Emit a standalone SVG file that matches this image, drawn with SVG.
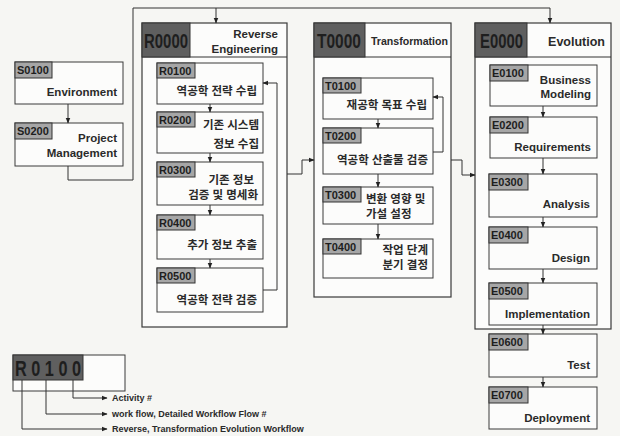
<svg xmlns="http://www.w3.org/2000/svg" width="620" height="436" viewBox="0 0 620 436">
  <style>
    .bg { fill: #f6f6f3; }
    .box { fill: #fcfcfb; stroke: #3a3a3a; stroke-width: 1; }
    .frame { fill: #fcfcfb; stroke: #3a3a3a; stroke-width: 1.2; }
    .dark { fill: #5f5f5f; stroke: #333; stroke-width: 1; }
    .tag { fill: #a6a6a6; stroke: #333; stroke-width: 1; }
    .code { font-family: "Liberation Sans", Arial, sans-serif; font-weight: bold; fill: #1e1e1e; }
    .big { font-size: 20px; }
    .small { font-size: 11px; }
    .en { font-family: "Liberation Sans", Arial, sans-serif; font-weight: bold; font-size: 11.5px; fill: #2a2a2a; text-anchor: end; }
    .ko { font-family: "Liberation Sans", "Noto Sans CJK KR", sans-serif; font-weight: bold; font-size: 11.5px; fill: #2a2a2a; }
    .end { text-anchor: end; }
    .leg { font-family: "Liberation Sans", Arial, sans-serif; font-weight: bold; font-size: 9px; fill: #2a2a2a; }
    .line { fill: none; stroke: #333; stroke-width: 1; }
  </style>
  <defs>
    <marker id="arr" viewBox="0 0 10 10" refX="9" refY="5" markerWidth="6" markerHeight="6" orient="auto" markerUnits="userSpaceOnUse">
      <path d="M0,1 L10,5 L0,9 z" fill="#222"/>
    </marker>
  </defs>

  <rect class="bg" x="0" y="0" width="620" height="436"/>

  <!-- phase frames -->
  <g id="R0000">
    <rect class="frame" x="142" y="23" width="145" height="304"/>
    <line class="line" x1="142" y1="57" x2="287" y2="57"/>
    <rect class="dark" x="142" y="23" width="48" height="34"/>
    <text class="code big" x="144" y="48" textLength="44" lengthAdjust="spacingAndGlyphs">R0000</text>
    <text class="en" x="278" y="38">Reverse</text>
    <text class="en" x="278" y="53">Engineering</text>
  </g>
  <g id="T0000">
    <rect class="frame" x="314" y="23" width="137" height="274"/>
    <line class="line" x1="314" y1="57" x2="451" y2="57"/>
    <rect class="dark" x="314" y="23" width="51" height="34"/>
    <text class="code big" x="317" y="48" textLength="44" lengthAdjust="spacingAndGlyphs">T0000</text>
    <text class="en" x="448" y="45" style="font-size:10.6px">Transformation</text>
  </g>
  <g id="E0000">
    <rect class="frame" x="475" y="23" width="136" height="306"/>
    <line class="line" x1="475" y1="57" x2="611" y2="57"/>
    <rect class="dark" x="475" y="23" width="52" height="34"/>
    <text class="code big" x="480" y="48" textLength="43" lengthAdjust="spacingAndGlyphs">E0000</text>
    <text class="en" x="605" y="46" style="font-size:12.5px">Evolution</text>
  </g>

  <!-- strategy activities -->
  <g id="S0100">
    <rect class="box" x="15" y="62" width="108" height="42"/>
    <rect class="tag" x="15" y="62" width="37" height="16"/>
    <text class="code small" x="17" y="74">S0100</text>
    <text class="en" x="117" y="96">Environment</text>
  </g>
  <g id="S0200">
    <rect class="box" x="15" y="123" width="108" height="43"/>
    <rect class="tag" x="15" y="123" width="37" height="16"/>
    <text class="code small" x="17" y="135">S0200</text>
    <text class="en" x="117" y="142">Project</text>
    <text class="en" x="117" y="157">Management</text>
  </g>

  <!-- reverse engineering activities -->
  <g id="R0100">
    <rect class="box" x="157" y="63" width="106" height="41"/>
    <rect class="tag" x="157" y="63" width="38" height="15"/>
    <text class="code small" x="159" y="75">R0100</text>
    <text class="ko end" x="257" y="95">역공학 전략 수립</text>
  </g>
  <g id="R0200">
    <rect class="box" x="157" y="112" width="106" height="41"/>
    <rect class="tag" x="157" y="112" width="38" height="15"/>
    <text class="code small" x="159" y="124">R0200</text>
    <text class="ko end" x="259" y="129">기존 시스템</text>
    <text class="ko end" x="259" y="148">정보 수집</text>
  </g>
  <g id="R0300">
    <rect class="box" x="157" y="162" width="106" height="43"/>
    <rect class="tag" x="157" y="162" width="38" height="15"/>
    <text class="code small" x="159" y="174">R0300</text>
    <text class="ko end" x="254" y="184">기존 정보</text>
    <text class="ko end" x="258" y="199">검증 및 명세화</text>
  </g>
  <g id="R0400">
    <rect class="box" x="157" y="215" width="106" height="44"/>
    <rect class="tag" x="157" y="215" width="38" height="15"/>
    <text class="code small" x="159" y="227">R0400</text>
    <text class="ko end" x="257" y="249">추가 정보 추출</text>
  </g>
  <g id="R0500">
    <rect class="box" x="157" y="268" width="106" height="44"/>
    <rect class="tag" x="157" y="268" width="38" height="15"/>
    <text class="code small" x="159" y="280">R0500</text>
    <text class="ko end" x="257" y="304">역공학 전략 검증</text>
  </g>

  <!-- transformation activities -->
  <g id="T0100">
    <rect class="box" x="323" y="78" width="110" height="41"/>
    <rect class="tag" x="323" y="78" width="38" height="15"/>
    <text class="code small" x="325" y="90">T0100</text>
    <text class="ko end" x="427" y="109">재공학 목표 수립</text>
  </g>
  <g id="T0200">
    <rect class="box" x="323" y="128" width="110" height="46"/>
    <rect class="tag" x="323" y="128" width="38" height="15"/>
    <text class="code small" x="325" y="140">T0200</text>
    <text class="ko end" x="428" y="164">역공학 산출물 검증</text>
  </g>
  <g id="T0300">
    <rect class="box" x="323" y="187" width="110" height="37"/>
    <rect class="tag" x="323" y="187" width="38" height="15"/>
    <text class="code small" x="325" y="199">T0300</text>
    <text class="ko" x="366" y="203">변환 영향 및</text>
    <text class="ko" x="366" y="218">가설 설정</text>
  </g>
  <g id="T0400">
    <rect class="box" x="323" y="239" width="110" height="39"/>
    <rect class="tag" x="323" y="239" width="38" height="15"/>
    <text class="code small" x="325" y="251">T0400</text>
    <text class="ko end" x="428" y="254">작업 단계</text>
    <text class="ko end" x="428" y="269">분기 결정</text>
  </g>

  <!-- evolution activities -->
  <g id="E0100">
    <rect class="box" x="490" y="65" width="107" height="41"/>
    <rect class="tag" x="490" y="65" width="38" height="16"/>
    <text class="code small" x="492" y="77">E0100</text>
    <text class="en" x="591" y="84">Business</text>
    <text class="en" x="591" y="98">Modeling</text>
  </g>
  <g id="E0200">
    <rect class="box" x="490" y="117" width="107" height="41"/>
    <rect class="tag" x="490" y="117" width="38" height="16"/>
    <text class="code small" x="492" y="129">E0200</text>
    <text class="en" x="591" y="151">Requirements</text>
  </g>
  <g id="E0300">
    <rect class="box" x="489" y="174" width="108" height="43"/>
    <rect class="tag" x="489" y="174" width="39" height="16"/>
    <text class="code small" x="491" y="186">E0300</text>
    <text class="en" x="590" y="208">Analysis</text>
  </g>
  <g id="E0400">
    <rect class="box" x="489" y="227" width="108" height="42"/>
    <rect class="tag" x="489" y="227" width="39" height="16"/>
    <text class="code small" x="491" y="239">E0400</text>
    <text class="en" x="590" y="262">Design</text>
  </g>
  <g id="E0500">
    <rect class="box" x="489" y="283" width="108" height="42"/>
    <rect class="tag" x="489" y="283" width="39" height="16"/>
    <text class="code small" x="491" y="295">E0500</text>
    <text class="en" x="590" y="318">Implementation</text>
  </g>
  <g id="E0600">
    <rect class="box" x="489" y="334" width="108" height="43"/>
    <rect class="tag" x="489" y="334" width="39" height="16"/>
    <text class="code small" x="491" y="346">E0600</text>
    <text class="en" x="590" y="369">Test</text>
  </g>
  <g id="E0700">
    <rect class="box" x="489" y="387" width="108" height="42"/>
    <rect class="tag" x="489" y="387" width="39" height="16"/>
    <text class="code small" x="491" y="399">E0700</text>
    <text class="en" x="590" y="422">Deployment</text>
  </g>

  <!-- numbering legend -->
  <g id="legend">
    <rect class="box" x="13" y="355" width="112" height="36"/>
    <rect class="dark" x="13" y="355" width="70" height="25"/>
    <text class="code" x="15" y="376" style="font-size:22px" textLength="66" lengthAdjust="spacingAndGlyphs">R 0 1 0 0</text>
    <path class="line" d="M73,380 V398 H107" marker-end="url(#arr)"/>
    <path class="line" d="M46,380 V414 H107" marker-end="url(#arr)"/>
    <path class="line" d="M22,380 V429 H107" marker-end="url(#arr)"/>
    <text class="leg" x="112" y="401">Activity #</text>
    <text class="leg" x="112" y="417">work flow, Detailed Workflow Flow #</text>
    <text class="leg" x="112" y="432">Reverse, Transformation Evolution Workflow</text>
  </g>

  <!-- connectors -->
  <g id="connectors">
    <path class="line" d="M68,104 V123" marker-end="url(#arr)"/>
    <path class="line" d="M68,166 V180 H133 V8 H550 V23" marker-end="url(#arr)"/>
    <path class="line" d="M216,8 V23" marker-end="url(#arr)"/>

    <path class="line" d="M210,104 V112" marker-end="url(#arr)"/>
    <path class="line" d="M210,153 V162" marker-end="url(#arr)"/>
    <path class="line" d="M210,205 V215" marker-end="url(#arr)"/>
    <path class="line" d="M210,259 V268" marker-end="url(#arr)"/>
    <path class="line" d="M263,290 H277 V83 H263" marker-end="url(#arr)"/>

    <path class="line" d="M287,174 H302 V160 H314" marker-end="url(#arr)"/>

    <path class="line" d="M378,119 V128" marker-end="url(#arr)"/>
    <path class="line" d="M378,174 V187" marker-end="url(#arr)"/>
    <path class="line" d="M378,224 V239" marker-end="url(#arr)"/>
    <path class="line" d="M433,152 H443 V97 H433" marker-end="url(#arr)"/>

    <path class="line" d="M451,160 H462 V175 H475" marker-end="url(#arr)"/>

    <path class="line" d="M543,106 V117" marker-end="url(#arr)"/>
    <path class="line" d="M543,158 V174" marker-end="url(#arr)"/>
    <path class="line" d="M543,217 V227" marker-end="url(#arr)"/>
    <path class="line" d="M543,269 V283" marker-end="url(#arr)"/>
    <path class="line" d="M543,325 V334" marker-end="url(#arr)"/>
    <path class="line" d="M543,377 V387" marker-end="url(#arr)"/>
  </g>
</svg>
